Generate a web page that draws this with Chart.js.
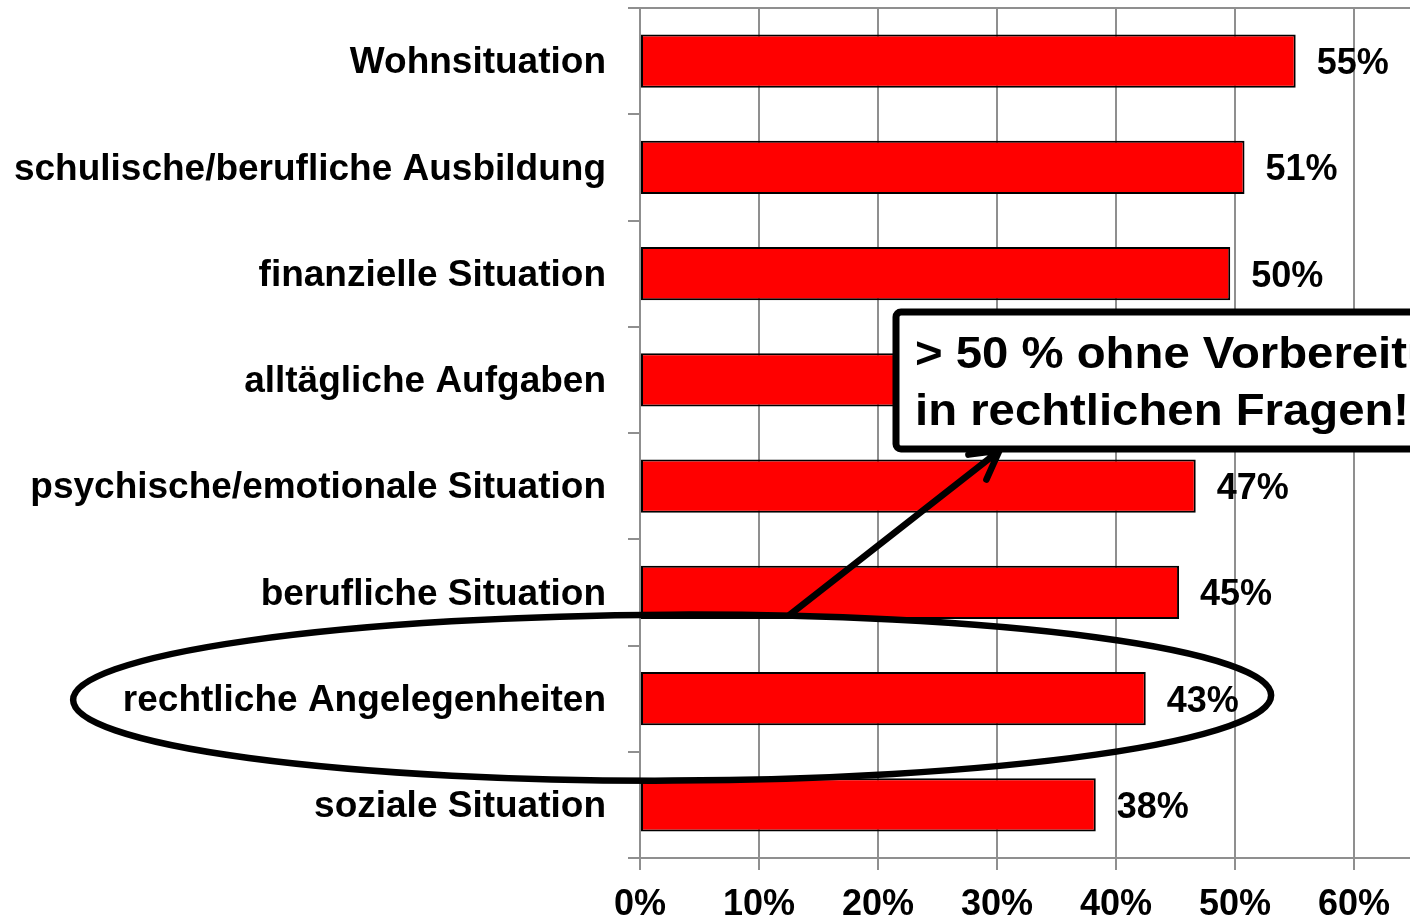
<!DOCTYPE html>
<html>
<head>
<meta charset="utf-8">
<script src="https://cdn.jsdelivr.net/npm/chart.js@4/dist/chart.umd.min.js"></script>
<style>
  body { margin: 0; overflow: hidden; background: #fff; }
  #wrap { width: 1410px; height: 919px; overflow: hidden; }
</style>
</head>
<body>
<div id="wrap"><canvas id="chart" width="1513" height="919"></canvas></div>
<script>
const categories = [
  "Wohnsituation",
  "schulische/berufliche Ausbildung",
  "finanzielle Situation",
  "alltägliche Aufgaben",
  "psychische/emotionale Situation",
  "berufliche Situation",
  "rechtliche Angelegenheiten",
  "soziale Situation"
];
const values = [55.1, 50.8, 49.6, 49.0, 46.7, 45.3, 42.5, 38.3];
const tickValues = [0, 10, 20, 30, 40, 50, 60, 70];
const noteLines = ["> 50 % ohne Vorbereitung", "in rechtlichen Fragen!"];

const FONT = "'Liberation Sans', Arial, sans-serif";
const GRAY = "#8f8f8f";

// value labels right of each bar
const valueLabels = {
  id: "valueLabels",
  afterDatasetsDraw(chart) {
    let ctx = chart.ctx;
    let meta = chart.getDatasetMeta(0);
    ctx.save();
    ctx.font = "bold 36px " + FONT;
    ctx.fillStyle = "#000";
    ctx.textAlign = "left";
    ctx.textBaseline = "middle";
    meta.data.forEach((bar, i) => {
      ctx.fillText(Math.round(values[i]) + "%", bar.x + 21, bar.y + 3);
    });
    ctx.restore();
  }
};

// top frame line, ellipse, arrow and note box
const annotations = {
  id: "annotations",
  beforeDatasetsDraw(chart) {
    let ctx = chart.ctx;
    let a = chart.chartArea;
    ctx.save();
    ctx.strokeStyle = GRAY;
    ctx.lineWidth = 2;
    ctx.beginPath();
    ctx.moveTo(a.left - 12, a.top);
    ctx.lineTo(a.right, a.top);
    ctx.stroke();
    ctx.restore();
  },
  afterDraw(chart) {
    let ctx = chart.ctx;
    let x = chart.scales.x;
    let y = chart.scales.y;
    let rowY = y.getPixelForValue(6);
    ctx.save();
    ctx.strokeStyle = "#000";
    ctx.lineCap = "round";
    ctx.lineJoin = "round";

    // ellipse around "rechtliche Angelegenheiten"
    ctx.lineWidth = 6.5;
    ctx.beginPath();
    ctx.ellipse(x.getPixelForValue(2.7), rowY - 1, 599, 83, -0.004, 0, Math.PI * 2);
    ctx.stroke();

    // arrow
    let sx = x.getPixelForValue(12.6), sy = rowY - 84;
    let tx = x.getPixelForValue(30.2), ty = rowY - 248;
    ctx.lineWidth = 6.5;
    ctx.beginPath();
    ctx.moveTo(sx, sy);
    ctx.lineTo(tx, ty);
    ctx.moveTo(tx - 13, ty + 29);
    ctx.lineTo(tx, ty);
    ctx.lineTo(tx - 31, ty + 4);
    ctx.stroke();

    // note box
    let bx = 896, by = 312, bw = 560, bh = 137;
    ctx.fillStyle = "#fff";
    ctx.lineWidth = 7;
    ctx.beginPath();
    ctx.roundRect(bx, by, bw, bh, 5);
    ctx.fill();
    ctx.stroke();
    ctx.fillStyle = "#000";
    ctx.font = "bold 44px " + FONT;
    ctx.textAlign = "left";
    ctx.textBaseline = "alphabetic";
    ctx.translate(915, 0);
    ctx.scale(1.075, 1);
    ctx.fillText(noteLines[0], 0, 368);
    ctx.fillText(noteLines[1], 0, 425);
    ctx.restore();
  }
};

new Chart(document.getElementById("chart"), {
  type: "bar",
  data: {
    labels: categories,
    datasets: [{
      data: values,
      backgroundColor: "#ff0000",
      borderColor: "#000",
      borderWidth: 2,
      borderSkipped: false,
      categoryPercentage: 1,
      barPercentage: 0.5
    }]
  },
  options: {
    indexAxis: "y",
    responsive: false,
    animation: false,
    devicePixelRatio: 1,
    layout: { padding: { top: 8, right: 40, left: 0, bottom: 0 } },
    plugins: {
      legend: { display: false },
      tooltip: { enabled: false }
    },
    scales: {
      x: {
        min: 0,
        max: 70,
        afterBuildTicks(scale) {
          scale.ticks = tickValues.map(v => ({ value: v }));
        },
        afterFit(scale) {
          scale.height = 61;
          scale.paddingLeft = 0;
          scale.paddingRight = 0;
        },
        grid: { color: GRAY, lineWidth: 2, tickLength: 12, drawTicks: true },
        border: { color: GRAY, width: 2 },
        ticks: {
          padding: 13,
          color: "#000",
          font: { family: FONT, size: 36, weight: "bold" },
          callback: v => v + "%"
        }
      },
      y: {
        afterFit(scale) {
          scale.width = 640;
          scale.paddingTop = 0;
          scale.paddingBottom = 0;
        },
        grid: { display: true, drawOnChartArea: false, drawTicks: true, tickLength: 12, color: GRAY, lineWidth: 2, offset: true },
        border: { color: GRAY, width: 2 },
        ticks: {
          padding: 22,
          labelOffset: 2,
          color: "#000",
          font: { family: FONT, size: 37, weight: "bold" }
        }
      }
    }
  },
  plugins: [valueLabels, annotations]
});
</script>
</body>
</html>
